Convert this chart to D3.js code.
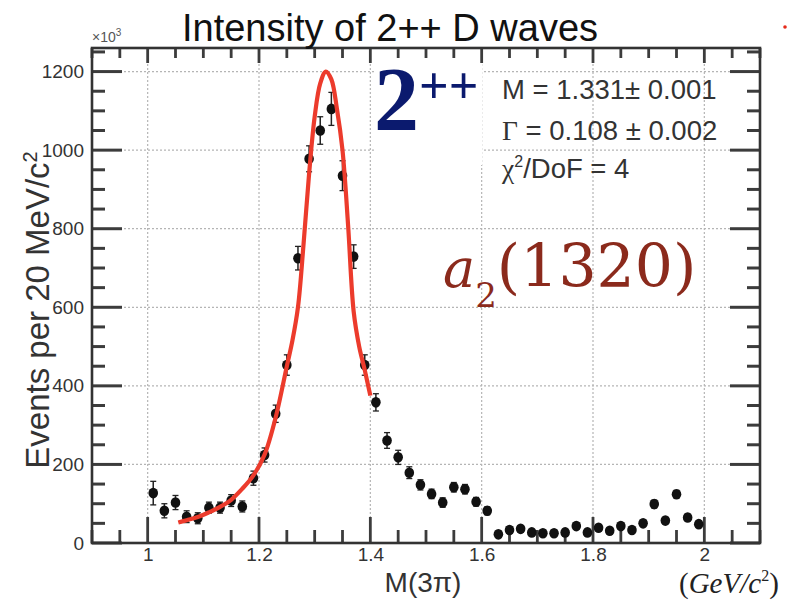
<!DOCTYPE html>
<html>
<head>
<meta charset="utf-8">
<script src="https://cdn.jsdelivr.net/npm/d3@7"></script>
<style>
body { margin: 0; background: #fff; }
text { font-family: "Liberation Sans", Arial, sans-serif; }
</style>
</head>
<body>
<div id="chart"></div>
<script>
// bin centres, M(3pi) in GeV/c^2 (20 MeV bins)
var massBins = [1.01,1.03,1.05,1.07,1.09,1.11,1.13,1.15,1.17,1.19,
                1.21,1.23,1.25,1.27,1.29,1.31,1.33,1.35,1.37,1.39,
                1.41,1.43,1.45,1.47,1.49,1.51,1.53,1.55,1.57,1.59,
                1.61,1.63,1.65,1.67,1.69,1.71,1.73,1.75,1.77,1.79,
                1.81,1.83,1.85,1.87,1.89,1.91,1.93,1.95,1.97,1.99];
// events (x10^3) per bin
var events = [127,82,103,67,63,90,90,108,93,165,
              224,329,453,725,978,1050,1105,935,729,453,
              358,261,218,179,148,125,103,142,137,105,
              82,22,33,36,27,25,25,27,43,27,
              39,31,43,33,50,99,57,124,65,48];
var errors = [30,18,18,15,14,14,14,15,14,18,
              18,22,26,30,33,35,42,38,30,26,
              22,20,18,15,13,12,12,12,12,11,
              10,8,8,8,8,8,8,8,8,8,
              8,8,8,8,8,10,8,10,8,8];

// fitted Breit-Wigner curve
var fitMass  = [1.055,1.07,1.09,1.11,1.13,1.15,1.17,1.19,1.21,1.23,
                1.25,1.26,1.27,1.28,1.29,1.30,1.31,1.32,1.33,1.34,
                1.35,1.36,1.37,1.38,1.39,1.40];
var fitValue = [52,58,66,78,92,110,138,172,225,320,
                450,515,600,760,940,1085,1170,1200,1180,1105,
                1000,810,590,500,440,375];

var xMajor = [1, 1.2, 1.4, 1.6, 1.8, 2];
var yMajor = [0, 200, 400, 600, 800, 1000, 1200];

var W = 788, H = 606;
var frame = {left: 92, right: 760, top: 48, bottom: 543};

var svg = d3.select("#chart").append("svg")
  .attr("width", W)
  .attr("height", H);

var x = d3.scaleLinear().domain([0.9, 2.1]).range([frame.left, frame.right]);
var y = d3.scaleLinear().domain([0, 1260]).range([frame.bottom, frame.top]);

var xMinor = d3.range(0.9, 2.1001, 0.05).filter(function(v) {
  return xMajor.every(function(m) { return Math.abs(m - v) > 1e-6; });
});
var yMinor = d3.range(0, 1260, 50).filter(function(v) { return v % 200 != 0; });

// dotted grid
svg.append("g").selectAll("line")
  .data(xMajor).enter().append("line")
    .attr("x1", function(d) { return x(d); })
    .attr("x2", function(d) { return x(d); })
    .attr("y1", frame.top).attr("y2", frame.bottom)
    .attr("stroke", "#b5b5b5").attr("stroke-width", 1.2)
    .attr("stroke-dasharray", "2,2");
svg.append("g").selectAll("line")
  .data(yMajor.slice(1)).enter().append("line")
    .attr("x1", frame.left).attr("x2", frame.right)
    .attr("y1", function(d) { return y(d); })
    .attr("y2", function(d) { return y(d); })
    .attr("stroke", "#b5b5b5").attr("stroke-width", 1.2)
    .attr("stroke-dasharray", "2,2");

// white box behind the 2++ label
svg.append("rect")
  .attr("x", 374).attr("y", 62).attr("width", 108).attr("height", 103)
  .attr("fill", "#fff");

// tick labels from d3 axes
function styleAxis(g) {
  g.select(".domain").remove();
  g.selectAll(".tick line").remove();
  g.selectAll("text").attr("fill", "#333")
    .style("font-family", "'Liberation Sans', Arial, sans-serif")
    .style("font-size", "19px");
}
svg.append("g")
  .attr("transform", "translate(" + frame.left + ",0)")
  .call(d3.axisLeft(y).tickValues(yMajor).tickSize(0).tickPadding(8)
        .tickFormat(d3.format("d")))
  .call(styleAxis);
svg.append("g")
  .attr("transform", "translate(0," + frame.bottom + ")")
  .call(d3.axisBottom(x).tickValues(xMajor).tickSize(0).tickPadding(5)
        .tickFormat(function(d) { return String(d); }))
  .call(styleAxis);

// inward tick marks on all four sides (ROOT style)
var tickColor = "#3c3c3c";
var ticks = svg.append("g");
function yTicks(vals, len) {
  ticks.append("g").selectAll("line").data(vals).enter().append("line")
    .attr("x1", frame.left).attr("x2", frame.left + len)
    .attr("y1", function(d) { return y(d); }).attr("y2", function(d) { return y(d); })
    .attr("stroke", tickColor).attr("stroke-width", 3);
  ticks.append("g").selectAll("line").data(vals).enter().append("line")
    .attr("x1", frame.right).attr("x2", frame.right - len)
    .attr("y1", function(d) { return y(d); }).attr("y2", function(d) { return y(d); })
    .attr("stroke", tickColor).attr("stroke-width", 3);
}
function xTicks(vals, lenBottom, lenTop) {
  ticks.append("g").selectAll("line").data(vals).enter().append("line")
    .attr("x1", function(d) { return x(d); }).attr("x2", function(d) { return x(d); })
    .attr("y1", frame.bottom).attr("y2", frame.bottom - lenBottom)
    .attr("stroke", tickColor).attr("stroke-width", 2.8);
  ticks.append("g").selectAll("line").data(vals).enter().append("line")
    .attr("x1", function(d) { return x(d); }).attr("x2", function(d) { return x(d); })
    .attr("y1", frame.top).attr("y2", frame.top + lenTop)
    .attr("stroke", tickColor).attr("stroke-width", 2.8);
}
yTicks(yMajor, 30);
yTicks(yMinor, 13);
xTicks(xMajor, 26, 15);
xTicks(xMinor, 13, 10);

// frame
svg.append("rect")
  .attr("x", frame.left).attr("y", frame.top)
  .attr("width", frame.right - frame.left)
  .attr("height", frame.bottom - frame.top)
  .attr("fill", "none").attr("stroke", "#333").attr("stroke-width", 2.6);

// data points with error bars
var pts = massBins.map(function(m, i) { return {m: m, v: events[i], e: errors[i]}; });
var pg = svg.append("g").selectAll("g").data(pts).enter().append("g");
pg.append("line")
  .attr("x1", function(d) { return x(d.m); })
  .attr("x2", function(d) { return x(d.m); })
  .attr("y1", function(d) { return y(d.v - d.e); })
  .attr("y2", function(d) { return y(d.v + d.e); })
  .attr("stroke", "#222").attr("stroke-width", 1.5);
pg.selectAll(".cap")
  .data(function(d) { return [{m: d.m, v: d.v - d.e}, {m: d.m, v: d.v + d.e}]; })
  .enter().append("line")
    .attr("class", "cap")
    .attr("x1", function(d) { return x(d.m) - 3; })
    .attr("x2", function(d) { return x(d.m) + 3; })
    .attr("y1", function(d) { return y(d.v); })
    .attr("y2", function(d) { return y(d.v); })
    .attr("stroke", "#222").attr("stroke-width", 1.3);
pg.append("ellipse")
  .attr("cx", function(d) { return x(d.m); })
  .attr("cy", function(d) { return y(d.v); })
  .attr("rx", 4.8).attr("ry", 5.3)
  .attr("fill", "#111");

// fit line
var fitPts = fitMass.map(function(m, i) { return [m, fitValue[i]]; });
svg.append("path")
  .datum(fitPts)
  .attr("d", d3.line()
    .x(function(d) { return x(d[0]); })
    .y(function(d) { return y(d[1]); })
    .curve(d3.curveCatmullRom.alpha(0.5)))
  .attr("fill", "none")
  .attr("stroke", "#ec3b2c")
  .attr("stroke-width", 4.2);

// title
svg.append("text")
  .attr("x", 390).attr("y", 41)
  .attr("text-anchor", "middle")
  .style("font-size", "38px")
  .attr("fill", "#111")
  .text("Intensity of 2++ D waves");

// x10^3 multiplier
var mult = svg.append("text")
  .attr("x", 92).attr("y", 42)
  .style("font-size", "14px")
  .attr("fill", "#555");
mult.append("tspan").text("×10");
mult.append("tspan").attr("dy", -6).style("font-size", "10px").text("3");

// y axis title
var yl = svg.append("text")
  .attr("transform", "translate(49,310) rotate(-90)")
  .attr("text-anchor", "middle")
  .style("font-size", "33px")
  .attr("fill", "#333");
yl.append("tspan").text("Events per 20 MeV/c");
yl.append("tspan").attr("dy", -12).style("font-size", "20px").text("2");

// x axis title
svg.append("text")
  .attr("x", 423).attr("y", 592)
  .attr("text-anchor", "middle")
  .style("font-size", "28px")
  .attr("fill", "#333")
  .text("M(3π)");

var unit = svg.append("text")
  .attr("x", 679).attr("y", 593)
  .style("font-family", "'Liberation Serif', 'Times New Roman', serif")
  .style("font-size", "29px")
  .attr("fill", "#222");
unit.append("tspan").text("(");
unit.append("tspan").style("font-style", "italic").text("GeV/c");
unit.append("tspan").attr("dy", -12).style("font-size", "16px").text("2");
unit.append("tspan").attr("dy", 12).text(")");

// 2++ label
var jpc = svg.append("text")
  .attr("x", 374).attr("y", 130)
  .style("font-family", "'Liberation Serif', 'Times New Roman', serif")
  .style("font-weight", "bold")
  .attr("fill", "#0b1a6e");
jpc.append("tspan").style("font-size", "90px").text("2");
jpc.append("tspan").attr("dy", -27).style("font-size", "52px").text("++");

// fit results
var stats = svg.append("g").style("font-size", "27.5px").attr("fill", "#333");
stats.append("text").attr("x", 502).attr("y", 99).text("M = 1.331± 0.001");
var g2 = stats.append("text").attr("x", 502).attr("y", 140);
g2.append("tspan").style("font-family", "'Liberation Serif', serif").text("Γ");
g2.append("tspan").text(" = 0.108 ± 0.002");
var g3 = stats.append("text").attr("x", 502).attr("y", 178);
g3.append("tspan").style("font-family", "'Liberation Serif', serif").text("χ");
g3.append("tspan").attr("dy", -11).style("font-size", "16px").text("2");
g3.append("tspan").attr("dy", 11).text("/DoF = 4");

// resonance name
var res = svg.append("text")
  .attr("x", 443).attr("y", 287)
  .style("font-family", "'DejaVu Serif', serif")
  .attr("fill", "#8b2a1c");
res.append("tspan").style("font-style", "italic").style("font-size", "54px").text("a");
res.append("tspan").attr("dy", 20).style("font-size", "34px").text("2");
res.append("tspan").attr("dy", -20).style("font-size", "60px").style("font-weight", "200").text("(1320)");

// small red mark at the top right corner
svg.append("circle").attr("cx", 785).attr("cy", 27).attr("r", 1.8).attr("fill", "#e52a1a");
</script>
</body>
</html>
